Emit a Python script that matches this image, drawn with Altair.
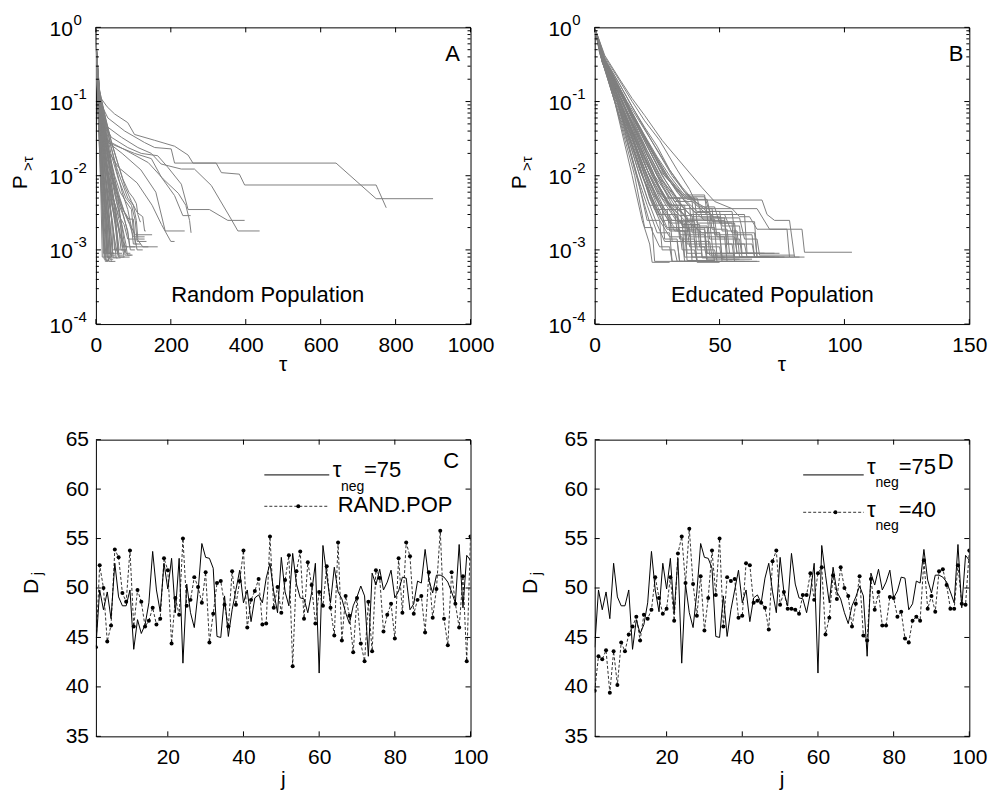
import altair as alt
import pandas as pd

FONT = "Liberation Sans"
W, H = 375, 297
GRAY = "#808080"

# ---------------- Panel A : random population (tau, P>tau) vertices ----------------
curves_A = [
    [(0,1),(3,0.35),(8,0.16),(14,0.11),(30,0.085),(50,0.068),(85,0.052),(103,0.036),(157,0.03),(210,0.025),(246,0.019),(259,0.0148),(641,0.0148),(748,0.0049),(900,0.0049)],
    [(0,1),(3,0.3),(8,0.13),(15,0.09),(32,0.06),(77,0.04),(130,0.028),(157,0.024),(201,0.023),(210,0.0148),(321,0.0148),(335,0.011),(383,0.0105),(397,0.0075),(748,0.0075),(775,0.0037)],
    [(0,1),(3,0.28),(8,0.11),(15,0.07),(32,0.045),(68,0.033),(112,0.024),(148,0.02),(174,0.0144),(228,0.0123),(263,0.0123),(308,0.0074),(361,0.0026),(379,0.0018),(437,0.0018)],
    [(0,1),(3,0.27),(8,0.1),(15,0.06),(41,0.033),(85,0.024),(121,0.02),(165,0.0186),(192,0.013),(228,0.0077),(246,0.0035),(303,0.0035),(352,0.0025),(397,0.0025)],
    [(0,1),(3,0.27),(10,0.09),(32,0.028),(103,0.02),(148,0.017),(175,0.0095),(210,0.0054),(232,0.0029),(253,0.0029)],
    [(0,1),(3,0.26),(10,0.085),(30,0.03),(80,0.022),(140,0.015),(180,0.009),(220,0.0058),(240,0.004),(250,0.0025),(254,0.0017)],
    [(0,1),(3,0.25),(10,0.08),(25,0.03),(70,0.02),(120,0.012),(160,0.006),(185,0.0018),(237,0.0018)],
    [(0,1),(3,0.25),(10,0.07),(25,0.025),(60,0.013),(110,0.008),(150,0.004),(175,0.0022),(200,0.0013),(210,0.0013)],
    [(0,1),(2,0.3),(5,0.1),(10,0.02),(14,0.004),(17,0.0008),(25,0.0008)],
    [(0,1),(2,0.3),(6,0.1),(12,0.02),(16,0.005),(20,0.0015),(22,0.00075),(32,0.00075)],
    [(0,1),(2,0.35),(6,0.09),(14,0.03),(20,0.01),(26,0.003),(30,0.0008),(40,0.0008)],
    [(0,1),(2,0.35),(7,0.1),(16,0.035),(24,0.012),(30,0.005),(36,0.002),(38,0.0009),(48,0.0009)],
    [(0,1),(2,0.4),(8,0.1),(18,0.04),(28,0.015),(36,0.006),(42,0.0025),(45,0.001),(58,0.001)],
    [(0,1),(2,0.4),(8,0.12),(20,0.05),(30,0.02),(40,0.009),(50,0.004),(56,0.0016),(58,0.0009),(70,0.0009)],
    [(0,1),(2,0.4),(9,0.12),(22,0.05),(34,0.022),(45,0.01),(58,0.0055),(66,0.0025),(70,0.0011),(85,0.0011)],
    [(0,1),(2,0.45),(10,0.13),(25,0.06),(40,0.025),(55,0.012),(70,0.006),(85,0.0035),(95,0.002),(100,0.0012),(110,0.0012)],
    [(0,1),(2,0.45),(10,0.12),(25,0.05),(40,0.02),(60,0.009),(80,0.005),(95,0.004),(105,0.0025),(110,0.0013),(135,0.0013)],
    [(0,1),(2,0.4),(9,0.1),(20,0.04),(35,0.015),(50,0.007),(65,0.004),(80,0.003),(95,0.002),(105,0.0016),(150,0.0016)],
    [(0,1),(2,0.4),(8,0.1),(20,0.035),(32,0.012),(45,0.005),(60,0.003),(75,0.0022),(85,0.0014),(110,0.0014),(125,0.0011),(165,0.0011)],
    [(0,1),(2,0.38),(8,0.09),(18,0.03),(30,0.01),(42,0.0045),(55,0.0025),(65,0.0015),(80,0.0011),(140,0.0011)],
    [(0,1),(2,0.38),(7,0.09),(17,0.025),(27,0.008),(36,0.004),(45,0.002),(52,0.0012),(60,0.0008),(75,0.0008)],
    [(0,1),(2,0.36),(7,0.08),(15,0.02),(24,0.006),(32,0.0025),(38,0.0012),(42,0.0008),(55,0.0008)],
    [(0,1),(2,0.36),(6,0.08),(14,0.018),(22,0.005),(28,0.002),(32,0.0009),(45,0.0009)],
    [(0,1),(2,0.33),(6,0.07),(13,0.015),(19,0.004),(24,0.0015),(27,0.00072),(36,0.00072)],
    [(0,1),(2,0.33),(5,0.08),(12,0.012),(17,0.003),(20,0.0009),(30,0.0009)],
    [(0,1),(2,0.42),(9,0.11),(22,0.045),(36,0.018),(50,0.009),(64,0.005),(78,0.003),(90,0.0022),(100,0.0015),(130,0.0015)],
    [(0,1),(2,0.42),(9,0.1),(21,0.04),(34,0.016),(48,0.008),(62,0.005),(75,0.0033),(88,0.0026),(100,0.0026),(105,0.0012),(120,0.0012)],
    [(0,1),(2,0.4),(8,0.1),(19,0.035),(30,0.013),(42,0.006),(55,0.0035),(65,0.0022),(72,0.0013),(78,0.00085),(95,0.00085)],
    [(0,1),(2,0.38),(8,0.09),(17,0.03),(28,0.011),(38,0.005),(48,0.003),(56,0.0018),(62,0.001),(80,0.001)],
    [(0,1),(2,0.37),(7,0.085),(16,0.028),(26,0.01),(35,0.0045),(44,0.0025),(50,0.0013),(54,0.00078),(66,0.00078)],
    [(0,1),(2,0.35),(7,0.08),(15,0.022),(23,0.008),(30,0.0035),(36,0.0018),(40,0.00085),(52,0.00085)],
    [(0,1),(2,0.34),(6,0.075),(14,0.02),(21,0.006),(27,0.0025),(31,0.0011),(34,0.0007),(44,0.0007)],
    [(0,1),(2,0.44),(10,0.13),(24,0.055),(40,0.025),(55,0.013),(70,0.008),(85,0.005),(100,0.004),(108,0.0025),(112,0.0014),(130,0.0014)],
    [(0,1),(2,0.43),(9,0.12),(23,0.05),(36,0.02),(50,0.01),(65,0.006),(80,0.0045),(95,0.0035),(100,0.0018),(110,0.001),(125,0.001)],
    [(0,1),(2,0.41),(9,0.11),(21,0.045),(33,0.018),(46,0.008),(58,0.0045),(72,0.003),(85,0.0018),(90,0.0011),(105,0.0011)],
    [(0,1),(2,0.39),(8,0.095),(18,0.035),(29,0.013),(40,0.006),(52,0.0032),(62,0.002),(70,0.0012),(75,0.0008),(90,0.0008)],
    [(0,1),(2,0.45),(10,0.14),(26,0.06),(42,0.028),(60,0.014),(78,0.007),(95,0.0045),(110,0.0032),(125,0.0028),(130,0.0018),(133,0.0018)],
    [(0,1),(2,0.44),(10,0.13),(25,0.06),(40,0.03),(56,0.016),(72,0.009),(88,0.006),(100,0.005),(108,0.0042),(112,0.003),(118,0.0024),(120,0.0024)],
    [(0,1),(2,0.3),(5,0.12),(9,0.04),(13,0.012),(17,0.004),(21,0.0015),(24,0.0008),(34,0.0008)],
    [(0,1),(2,0.32),(6,0.11),(11,0.035),(16,0.012),(21,0.004),(26,0.0016),(29,0.0009),(38,0.0009)],
    [(0,1),(2,0.34),(6,0.1),(12,0.04),(18,0.015),(24,0.006),(30,0.0025),(34,0.0012),(36,0.00075),(46,0.00075)],
    [(0,1),(2,0.36),(7,0.11),(14,0.045),(21,0.018),(28,0.007),(35,0.003),(40,0.0015),(44,0.0009),(56,0.0009)],
    [(0,1),(2,0.37),(7,0.12),(15,0.05),(23,0.02),(31,0.008),(39,0.0035),(46,0.0018),(50,0.001),(62,0.001)],
    [(0,1),(2,0.38),(8,0.12),(16,0.05),(25,0.02),(34,0.009),(43,0.0042),(51,0.0022),(57,0.0012),(60,0.00085),(72,0.00085)],
    [(0,1),(2,0.39),(8,0.13),(17,0.055),(27,0.022),(37,0.01),(47,0.005),(56,0.0028),(63,0.0016),(67,0.001),(82,0.001)],
    [(0,1),(2,0.4),(9,0.13),(19,0.055),(30,0.024),(41,0.011),(52,0.0055),(62,0.0033),(70,0.002),(76,0.0012),(80,0.0009),(92,0.0009)],
    [(0,1),(2,0.33),(5,0.11),(10,0.035),(15,0.01),(19,0.0035),(23,0.0012),(25,0.0007),(33,0.0007)],
    [(0,1),(2,0.35),(6,0.1),(13,0.03),(19,0.01),(25,0.004),(31,0.0018),(35,0.0009),(48,0.0009)],
    [(0,1),(2,0.37),(7,0.11),(15,0.04),(22,0.014),(30,0.0055),(37,0.0025),(42,0.0013),(46,0.00078),(58,0.00078)],
    [(0,1),(2,0.39),(8,0.12),(18,0.045),(27,0.017),(36,0.0075),(45,0.0038),(53,0.0022),(58,0.0013),(62,0.0008),(76,0.0008)],
    [(0,1),(2,0.41),(9,0.13),(20,0.05),(31,0.02),(42,0.009),(53,0.0048),(63,0.003),(72,0.0019),(80,0.0012),(84,0.00085),(98,0.00085)],
    [(0,1),(2,0.36),(7,0.1),(14,0.035),(21,0.012),(28,0.0045),(34,0.002),(38,0.001),(41,0.0007),(52,0.0007)],
    [(0,1),(2,0.34),(6,0.09),(12,0.028),(18,0.009),(23,0.0032),(27,0.0014),(30,0.0008),(42,0.0008)],
    [(0,1),(2,0.42),(9,0.14),(21,0.06),(33,0.026),(45,0.012),(57,0.006),(68,0.0037),(78,0.0024),(86,0.0016),(92,0.001),(104,0.001)],
]

# ---------------- Panel B : educated population ----------------
curves_B = [
    [(0,1),(4,0.42),(10,0.2),(15,0.11),(20,0.065),(27,0.03),(35,0.0144),(43,0.0069),(48,0.0045),(55,0.0036),(65,0.0036),(70,0.0019),(83,0.0019),(84,0.00093),(103,0.00093)],
    [(0,1),(4,0.4),(10,0.19),(15,0.1),(20,0.055),(26,0.03),(33,0.012),(38,0.0065),(40,0.0047),(67,0.0047),(69,0.003),(72,0.0025),(78,0.0025),(80,0.0008),(84,0.0008)],
    [(0,1),(4,0.38),(10,0.17),(15,0.085),(20,0.045),(25,0.025),(30,0.012),(35,0.007),(40,0.0045),(45,0.0036),(55,0.0036),(58,0.0028),(62,0.0028),(65,0.0019),(77,0.0019),(78,0.0008),(82,0.0008)],
    [(0,1),(4,0.37),(10,0.15),(15,0.07),(20,0.035),(25,0.018),(30,0.01),(35,0.006),(40,0.0042),(45,0.003),(52,0.003),(55,0.0017),(64,0.0017),(65,0.0008),(80,0.0008)],
    [(0,1),(3,0.4),(11,0.1),(25,0.01),(31,0.004),(38,0.004),(39,0.0017),(50,0.0017),(51,0.0008),(60,0.0008)],
    [(0,1),(3,0.4),(11,0.1),(24,0.01),(30,0.005),(41,0.005),(43,0.0027),(52,0.0027),(53,0.0009),(64,0.0009)],
    [(0,1),(3,0.38),(10,0.1),(22,0.01),(28,0.0035),(36,0.0035),(37,0.0012),(47,0.0012),(48,0.0007),(62,0.0007)],
    [(0,1),(3,0.38),(10,0.1),(21,0.01),(26,0.004),(33,0.004),(34,0.0016),(44,0.0016),(45,0.00075),(58,0.00075)],
    [(0,1),(3,0.36),(10,0.1),(20,0.01),(25,0.003),(30,0.003),(31,0.0013),(40,0.0013),(41,0.0007),(55,0.0007)],
    [(0,1),(3,0.36),(9,0.1),(19,0.01),(24,0.0035),(29,0.0035),(30,0.0018),(36,0.0018),(37,0.00072),(48,0.00072)],
    [(0,1),(3,0.35),(9,0.1),(18,0.01),(22,0.004),(27,0.004),(28,0.0014),(33,0.0014),(34,0.0007),(44,0.0007)],
    [(0,1),(3,0.35),(9,0.1),(17,0.01),(21,0.0025),(26,0.0025),(27,0.001),(32,0.001),(33,0.0007),(40,0.0007)],
    [(0,1),(2,0.45),(8,0.1),(16,0.01),(20,0.002),(23,0.002),(24,0.0007),(35,0.0007)],
    [(0,1),(2,0.45),(8,0.1),(15,0.01),(19,0.0025),(22,0.0012),(23,0.00068),(30,0.00068)],
    [(0,1),(3,0.4),(12,0.1),(27,0.01),(33,0.005),(40,0.005),(41,0.0023),(55,0.0023),(56,0.0008),(70,0.0008)],
    [(0,1),(3,0.4),(12,0.1),(28,0.01),(35,0.0055),(44,0.0055),(45,0.003),(60,0.003),(61,0.0009),(74,0.0009)],
    [(0,1),(3,0.38),(11,0.1),(26,0.01),(32,0.0045),(39,0.0045),(40,0.002),(48,0.002),(49,0.0008),(62,0.0008)],
    [(0,1),(3,0.37),(11,0.1),(23,0.01),(28,0.005),(34,0.005),(35,0.0021),(45,0.0021),(46,0.00085),(56,0.00085)],
    [(0,1),(3,0.36),(10,0.1),(23,0.01),(29,0.0045),(37,0.0028),(38,0.0015),(52,0.0015),(53,0.0007),(65,0.0007)],
    [(0,1),(3,0.36),(10,0.1),(22,0.01),(27,0.005),(32,0.0032),(33,0.0018),(42,0.0018),(43,0.00078),(52,0.00078)],
    [(0,1),(3,0.35),(10,0.1),(20,0.01),(25,0.004),(29,0.002),(38,0.002),(39,0.0007),(47,0.0007)],
    [(0,1),(3,0.34),(9,0.1),(21,0.01),(26,0.0045),(31,0.0025),(41,0.0025),(42,0.0011),(50,0.0011),(51,0.0007),(57,0.0007)],
    [(0,1),(3,0.34),(9,0.1),(19,0.01),(23,0.005),(27,0.0025),(35,0.0025),(36,0.0008),(45,0.0008)],
    [(0,1),(2,0.5),(8,0.1),(17,0.01),(21,0.004),(25,0.0017),(30,0.0017),(31,0.0007),(38,0.0007)],
    [(0,1),(3,0.4),(11,0.1),(25,0.01),(31,0.006),(36,0.0036),(47,0.0036),(48,0.0016),(63,0.0016),(64,0.0008),(72,0.0008)],
    [(0,1),(3,0.4),(12,0.1),(26,0.012),(32,0.007),(37,0.0048),(45,0.0048),(47,0.0024),(64,0.0024),(65,0.0008),(76,0.0008)],
    [(0,1),(3,0.38),(12,0.1),(29,0.01),(36,0.0052),(44,0.0052),(46,0.0033),(55,0.0033),(57,0.0009),(68,0.0009)],
    [(0,1),(3,0.42),(13,0.1),(30,0.012),(36,0.006),(42,0.004),(48,0.0027),(58,0.0027),(60,0.0014),(65,0.0014),(66,0.00085),(80,0.00085)],
    [(0,1),(3,0.36),(9,0.1),(18,0.012),(22,0.006),(26,0.003),(33,0.003),(34,0.0014),(40,0.0014),(41,0.0007),(50,0.0007)],
    [(0,1),(3,0.37),(10,0.1),(21,0.012),(26,0.006),(30,0.004),(36,0.004),(37,0.0019),(44,0.0019),(45,0.0009),(58,0.0009)],
    [(0,1),(3,0.42),(8,0.17),(14,0.06),(20,0.02),(26,0.007),(31,0.0035),(35,0.0022),(42,0.0022),(43,0.0008),(52,0.0008)],
    [(0,1),(3,0.4),(8,0.16),(14,0.055),(20,0.018),(25,0.008),(30,0.004),(36,0.0025),(46,0.0025),(47,0.0012),(55,0.0012),(56,0.0007),(66,0.0007)],
    [(0,1),(3,0.41),(9,0.16),(15,0.06),(21,0.022),(27,0.009),(33,0.0045),(38,0.003),(45,0.003),(46,0.0014),(58,0.0014),(59,0.0008),(70,0.0008)],
    [(0,1),(3,0.39),(8,0.15),(13,0.05),(18,0.016),(23,0.006),(28,0.003),(32,0.0018),(38,0.0018),(39,0.0008),(49,0.0008)],
    [(0,1),(3,0.38),(8,0.14),(13,0.045),(18,0.014),(22,0.005),(26,0.0025),(30,0.0015),(35,0.0015),(36,0.0007),(46,0.0007)],
    [(0,1),(3,0.43),(9,0.18),(15,0.07),(21,0.028),(27,0.012),(33,0.006),(39,0.0035),(44,0.0025),(52,0.0025),(53,0.0012),(60,0.0012),(61,0.0008),(74,0.0008)],
    [(0,1),(3,0.42),(9,0.17),(15,0.065),(21,0.025),(28,0.009),(34,0.0042),(39,0.0028),(50,0.0028),(51,0.0018),(57,0.0018),(58,0.0008),(69,0.0008)],
    [(0,1),(3,0.37),(7,0.14),(12,0.045),(17,0.013),(21,0.005),(25,0.0022),(28,0.0013),(33,0.0013),(34,0.0007),(42,0.0007)],
    [(0,1),(3,0.36),(7,0.13),(12,0.04),(16,0.012),(20,0.004),(23,0.0018),(26,0.0011),(30,0.0011),(31,0.0007),(38,0.0007)],
    [(0,1),(3,0.4),(8,0.15),(14,0.05),(19,0.017),(24,0.007),(29,0.0038),(33,0.0024),(40,0.0024),(41,0.001),(48,0.001),(49,0.0007),(60,0.0007)],
    [(0,1),(3,0.41),(9,0.15),(15,0.052),(21,0.019),(27,0.0075),(32,0.004),(37,0.0026),(48,0.0026),(49,0.0015),(56,0.0015),(57,0.0009),(66,0.0009)],
    [(0,1),(3,0.39),(8,0.15),(14,0.048),(20,0.016),(26,0.0065),(31,0.0032),(36,0.002),(44,0.002),(45,0.0009),(54,0.0009)],
    [(0,1),(3,0.42),(9,0.17),(16,0.062),(23,0.022),(30,0.009),(36,0.0048),(41,0.0033),(50,0.0033),(51,0.0021),(58,0.0021),(59,0.0009),(72,0.0009)],
    [(0,1),(3,0.4),(9,0.16),(15,0.058),(21,0.02),(27,0.008),(33,0.004),(38,0.0023),(43,0.0017),(50,0.0017),(51,0.00075),(63,0.00075)],
    [(0,1),(3,0.38),(8,0.14),(14,0.045),(19,0.014),(24,0.0055),(28,0.003),(32,0.002),(37,0.002),(38,0.0011),(44,0.0011),(45,0.0007),(53,0.0007)],
    [(0,1),(3,0.37),(8,0.13),(13,0.042),(18,0.013),(22,0.0055),(26,0.0028),(29,0.0019),(34,0.0019),(35,0.001),(40,0.001),(41,0.00068),(50,0.00068)],
    [(0,1),(3,0.43),(10,0.17),(17,0.065),(24,0.025),(31,0.01),(37,0.0055),(42,0.0038),(48,0.0038),(50,0.0023),(56,0.0023),(57,0.0012),(63,0.0012),(64,0.0008),(78,0.0008)],
    [(0,1),(3,0.41),(9,0.16),(16,0.06),(22,0.024),(29,0.0095),(35,0.005),(40,0.0032),(46,0.0032),(47,0.0019),(53,0.0019),(54,0.0009),(61,0.0009)],
    [(0,1),(3,0.39),(8,0.15),(14,0.05),(20,0.018),(25,0.008),(30,0.0042),(34,0.0029),(39,0.0029),(40,0.0013),(46,0.0013),(47,0.0008),(56,0.0008)],
    [(0,1),(3,0.38),(8,0.14),(13,0.048),(19,0.015),(24,0.006),(28,0.0033),(31,0.0023),(36,0.0023),(37,0.0009),(43,0.0009)],
]

xt_A = [0, 200, 400, 600, 800, 1000]
xt_B = [0, 50, 100, 150]
yt_log = [1, 0.1, 0.01, 0.001, 0.0001]
yt_exp = ["0", "-1", "-2", "-3", "-4"]
yt_minor = [0.0002, 0.0003, 0.0004, 0.0005, 0.0006, 0.0007, 0.0008, 0.0009,
            0.002, 0.003, 0.004, 0.005, 0.006, 0.007, 0.008, 0.009,
            0.02, 0.03, 0.04, 0.05, 0.06, 0.07, 0.08, 0.09,
            0.2, 0.3, 0.4, 0.5, 0.6, 0.7, 0.8, 0.9]

# ---------------- Panels C and D ----------------
j = list(range(1, 101))
tau75 = [44.0, 49.8, 47.8, 49.6, 46.9, 52.5, 49.1, 48.2, 48.2, 49.8,
         43.8, 46.8, 45.4, 46.3, 48.5, 53.7, 49.8, 47.6, 52.5, 49.9,
         53.0, 47.5, 53.0, 42.4, 50.4, 47.5, 46.0, 49.6, 54.5, 53.1,
         53.0, 52.0, 45.1, 45.0, 49.2, 45.1, 47.8, 49.8, 51.8, 48.5,
         49.8, 46.6, 49.0, 49.3, 48.5, 51.0, 52.5, 49.6, 47.5, 53.1,
         49.6, 48.2, 53.5, 50.4, 49.0, 48.9, 47.5, 49.5, 52.5, 41.4,
         54.3, 51.3, 48.5, 52.1, 49.6, 48.9, 47.5, 46.4, 48.2, 49.1,
         50.2, 49.2, 43.1, 51.5, 50.3, 51.9, 49.8, 50.6, 51.8, 49.0,
         49.7, 51.1, 51.0, 47.8, 48.4, 50.7, 50.5, 53.9, 50.8, 49.5,
         51.3, 51.3, 51.1, 50.6, 49.6, 48.5, 54.4, 48.0, 53.3, 52.8]
randpop = [44.0, 52.3, 50.0, 44.6, 46.2, 53.9, 53.1, 49.5, 48.6, 53.8,
           46.1, 49.8, 48.6, 46.1, 46.7, 48.0, 46.3, 46.9, 53.0, 51.8,
           44.4, 49.0, 47.3, 55.0, 48.2, 48.8, 51.1, 50.1, 48.5, 51.6,
           44.5, 47.4, 50.5, 50.7, 48.3, 46.1, 51.7, 48.3, 50.7, 53.8,
           46.0, 48.8, 49.7, 50.9, 46.3, 46.4, 55.2, 48.0, 50.1, 47.5,
           50.8, 53.3, 42.1, 51.7, 53.7, 46.9, 52.6, 50.3, 46.4, 49.6,
           48.2, 52.2, 48.0, 45.2, 54.6, 44.7, 49.2, 47.2, 43.5, 49.0,
           44.4, 42.6, 48.6, 43.6, 51.8, 51.0, 45.6, 47.3, 48.4, 44.9,
           53.0, 47.5, 54.6, 53.2, 47.4, 48.8, 49.2, 45.5, 51.6, 47.0,
           49.9, 55.8, 46.9, 44.2, 51.6, 48.4, 46.0, 51.2, 42.6, 55.2]
tau40 = [39.6, 43.1, 42.8, 43.7, 39.4, 43.6, 40.2, 44.5, 43.6, 45.3,
         46.1, 47.1, 44.7, 47.3, 46.9, 47.8, 51.1, 49.0, 47.4, 47.9,
         51.1, 46.7, 53.5, 55.2, 50.5, 56.0, 50.4, 47.2, 51.2, 45.7,
         49.0, 53.8, 49.3, 55.0, 46.1, 51.1, 50.7, 50.9, 47.0, 47.2,
         52.5, 52.3, 48.5, 48.7, 48.5, 48.0, 45.8, 52.7, 53.8, 48.3,
         49.6, 47.9, 47.9, 47.8, 47.4, 49.3, 49.3, 51.5, 48.8, 51.5,
         52.1, 45.3, 47.0, 51.3, 48.9, 52.1, 50.0, 49.2, 46.1, 48.4,
         51.2, 45.2, 44.7, 50.9, 47.8, 49.6, 46.2, 46.2, 49.1, 49.0,
         47.1, 47.6, 44.9, 44.5, 46.7, 47.1, 46.7, 52.8, 47.9, 49.2,
         47.6, 51.7, 51.9, 50.3, 47.9, 47.9, 52.3, 48.4, 48.3, 53.8]
xt_CD = [20, 40, 60, 80, 100]
yt_CD = [35, 40, 45, 50, 55, 60, 65]

one = pd.DataFrame({"a": [0]})


def txt(x, y, s, size=22, align="left", baseline="alphabetic", angle=None):
    kw = dict(font=FONT, fontSize=size, align=align, baseline=baseline, color="black")
    if angle is not None:
        kw["angle"] = angle
    return alt.Chart(one).mark_text(**kw).encode(
        x=alt.value(x), y=alt.value(y), text=alt.value(s))


def hseg(x1, x2, y, dash=None, width=1.0):
    kw = dict(color="black", strokeWidth=width)
    if dash:
        kw["strokeDash"] = dash
    return alt.Chart(one).mark_rule(**kw).encode(
        x=alt.value(x1), x2=alt.value(x2), y=alt.value(y))


def dot(x, y):
    return alt.Chart(one).mark_circle(color="black", opacity=1, size=16).encode(
        x=alt.value(x), y=alt.value(y))


def tick_layers(xf, xvals, X, yf, yvals, Y, yminor=None):
    dx = pd.DataFrame({xf: xvals})
    dy = pd.DataFrame({yf: yvals})
    r = [
        alt.Chart(dx).mark_rule(color="black").encode(x=X, y=alt.value(H), y2=alt.value(H - 5)),
        alt.Chart(dx).mark_rule(color="black").encode(x=X, y=alt.value(0), y2=alt.value(5)),
        alt.Chart(dy).mark_rule(color="black").encode(y=Y, x=alt.value(0), x2=alt.value(5)),
        alt.Chart(dy).mark_rule(color="black").encode(y=Y, x=alt.value(W), x2=alt.value(W - 5)),
    ]
    if yminor:
        dm = pd.DataFrame({yf: yminor})
        r.append(alt.Chart(dm).mark_rule(color="black").encode(y=Y, x=alt.value(0), x2=alt.value(3)))
        r.append(alt.Chart(dm).mark_rule(color="black").encode(y=Y, x=alt.value(W), x2=alt.value(W - 3)))
    return r


def xaxis(vals):
    return alt.Axis(values=vals, title=None, ticks=False, tickSize=0, domain=False, grid=False,
                    labelFont=FONT, labelFontSize=21, labelColor="black", labelPadding=27,
                    labelBaseline="alphabetic", labelOverlap=False, labelFlush=False, format="d")


def log_panel(curves, xdom, xt, letter, letter_x, note, note_x, anchor=False):
    rows = []
    for ci, pts in enumerate(curves):
        for k, (t, p) in enumerate(pts):
            rows.append({"curve": ci, "k": k, "tau": t, "P": p})
    df = pd.DataFrame(rows)
    X = alt.X("tau:Q", scale=alt.Scale(domain=xdom, nice=False, zero=False), axis=xaxis(xt))
    Y = alt.Y("P:Q", scale=alt.Scale(type="log", domain=[0.0001, 1], nice=False), axis=None)
    lines = alt.Chart(df).mark_line(color=GRAY, strokeWidth=1, clip=True).encode(
        x=X, y=Y, detail="curve:N", order="k:Q")
    dlab = pd.DataFrame({"P": yt_log, "e": yt_exp})
    tens = alt.Chart(dlab).mark_text(font=FONT, fontSize=21, align="right", baseline="alphabetic",
                                     dy=8.5, color="black").encode(
        y=Y, x=alt.value(-23), text=alt.value("10"))
    exps = alt.Chart(dlab).mark_text(font=FONT, fontSize=15, align="left", baseline="alphabetic",
                                     dy=-2.5, color="black").encode(
        y=Y, x=alt.value(-22.5), text="e:N")
    layers = [lines] + tick_layers("tau", xt, X, "P", yt_log, Y, yt_minor) + [
        tens, exps,
        txt(letter_x, 33.7, letter, align="right"),
        txt(note_x, 275.4, note, align="center"),
        txt(-68.5, 155, "P", size=21, align="center", angle=270),
        txt(-63, 136.5, ">τ", size=15, align="center", angle=270),
        txt(W / 2, H + 46.7, "τ", size=21, align="center"),
    ]
    if anchor:
        layers.append(alt.Chart(one).mark_rect(color="white").encode(
            x=alt.value(-94.7), x2=alt.value(-93.7), y=alt.value(-26.3), y2=alt.value(-25.3)))
    return alt.layer(*layers).properties(width=W, height=H)


def lin_panel(dash_vals, letter, letter_x, letter_y, legend_layers):
    X = alt.X("j:Q", scale=alt.Scale(domain=[1, 100], nice=False, zero=False), axis=xaxis(xt_CD))
    Y = alt.Y("D:Q", scale=alt.Scale(domain=[35, 65], nice=False, zero=False),
              axis=alt.Axis(values=yt_CD, title=None, ticks=False, tickSize=0, domain=False, grid=False,
                            labelFont=FONT, labelFontSize=21, labelColor="black", labelPadding=7.4,
                            labelOverlap=False, labelFlush=False))
    d_sol = pd.DataFrame({"j": j, "D": tau75})
    d_dash = pd.DataFrame({"j": j, "D": dash_vals})
    solid = alt.Chart(d_sol).mark_line(color="black", strokeWidth=1, clip=True).encode(x=X, y=Y)
    dashed = alt.Chart(d_dash).mark_line(color="black", strokeWidth=0.8, strokeDash=[3, 2],
                                         clip=True).encode(x=X, y=Y)
    pts = alt.Chart(d_dash).mark_circle(color="black", opacity=1, size=16, clip=True).encode(x=X, y=Y)
    layers = [solid, dashed, pts] + tick_layers("j", xt_CD, X, "D", yt_CD, Y) + [
        txt(letter_x, letter_y, letter, align="right"),
        txt(-58, 147, "D", size=21, align="center", angle=270),
        txt(-53.5, 134, "j", size=15, align="center", angle=270),
        txt(W / 2, H + 50, "j", size=21, align="center"),
    ] + legend_layers
    return alt.layer(*layers).properties(width=W, height=H)


legC = [
    hseg(168.6, 233.6, 35.3),
    hseg(168.6, 233.6, 66.7, dash=[3, 2], width=0.8),
    dot(202.6, 66.7),
    txt(237, 37.7, "τ"), txt(245.3, 51, "neg", size=14), txt(268.3, 37.7, "=75"),
    txt(242, 72.7, "RAND.POP"),
]
legD = [
    hseg(208.7, 269.3, 35.3),
    hseg(208.7, 269.3, 72.7, dash=[3, 2], width=0.8),
    dot(241, 72.7),
    txt(272.7, 34.3, "τ"), txt(281, 47.7, "neg", size=14), txt(304.3, 34.3, "=75"),
    txt(272.7, 77.7, "τ"), txt(281, 90.7, "neg", size=14), txt(304.3, 77.7, "=40"),
]

pA = log_panel(curves_A, [0, 1000], xt_A, "A", 364.3, "Random Population", 172, anchor=True)
pB = log_panel(curves_B, [0, 150], xt_B, "B", 369, "Educated Population", 177.8)
pC = lin_panel(randpop, "C", 363.6, 28.3, legC)
pD = lin_panel(tau40, "D", 359.3, 29.3, legD)

chart = alt.concat(
    pA, pB, pC, pD, columns=2,
    spacing={"row": 115.7, "column": 124.3}, bounds="flush"
).properties(
    padding=0, background="white"
).configure_view(stroke="black", strokeWidth=1)

chart.save("out.html", embed_options={"renderer": "svg", "actions": False})
